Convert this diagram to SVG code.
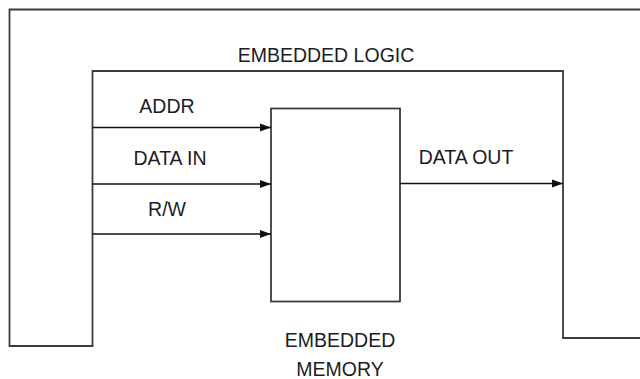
<svg xmlns="http://www.w3.org/2000/svg" width="640" height="379" viewBox="0 0 640 379">
  <style>
    .frame { fill: none; stroke: #3c3c3c; stroke-width: 1.8; }
    .wire { fill: none; stroke: #111; stroke-width: 1.5; }
    .lbl { font-family: "Liberation Sans", Arial, sans-serif; font-size: 19.5px; fill: #1c1c24; text-anchor: middle; }
  </style>
  <defs>
    <marker id="arrow" markerUnits="userSpaceOnUse" markerWidth="12" markerHeight="10" refX="11" refY="5" orient="auto">
      <path d="M0,1 L11,5 L0,9 Z" fill="#111"/>
    </marker>
  </defs>
  <rect width="640" height="379" fill="#fff"/>

  <!-- embedded logic outline -->
  <g id="embedded-logic">
    <path class="frame" d="M640,9.5 H9.5 V346 H92.5 V71 H563 V338 H640"/>
    <text class="lbl" x="326" y="62">EMBEDDED LOGIC</text>
  </g>

  <!-- embedded memory block -->
  <g id="embedded-memory">
    <rect class="frame" x="271" y="108.5" width="129" height="193"/>
    <text class="lbl" x="340" y="347">EMBEDDED</text>
    <text class="lbl" x="340" y="376">MEMORY</text>
  </g>

  <!-- signal connectors -->
  <g id="connectors">
    <line class="wire" x1="92.5" y1="127.5" x2="271" y2="127.5" marker-end="url(#arrow)"/>
    <line class="wire" x1="92.5" y1="184" x2="271" y2="184" marker-end="url(#arrow)"/>
    <line class="wire" x1="92.5" y1="234" x2="271" y2="234" marker-end="url(#arrow)"/>
    <line class="wire" x1="400" y1="183.5" x2="563" y2="183.5" marker-end="url(#arrow)"/>
    <text class="lbl" x="167" y="113">ADDR</text>
    <text class="lbl" x="170" y="165">DATA IN</text>
    <text class="lbl" x="167" y="216">R/W</text>
    <text class="lbl" x="466" y="164">DATA OUT</text>
  </g>
</svg>
